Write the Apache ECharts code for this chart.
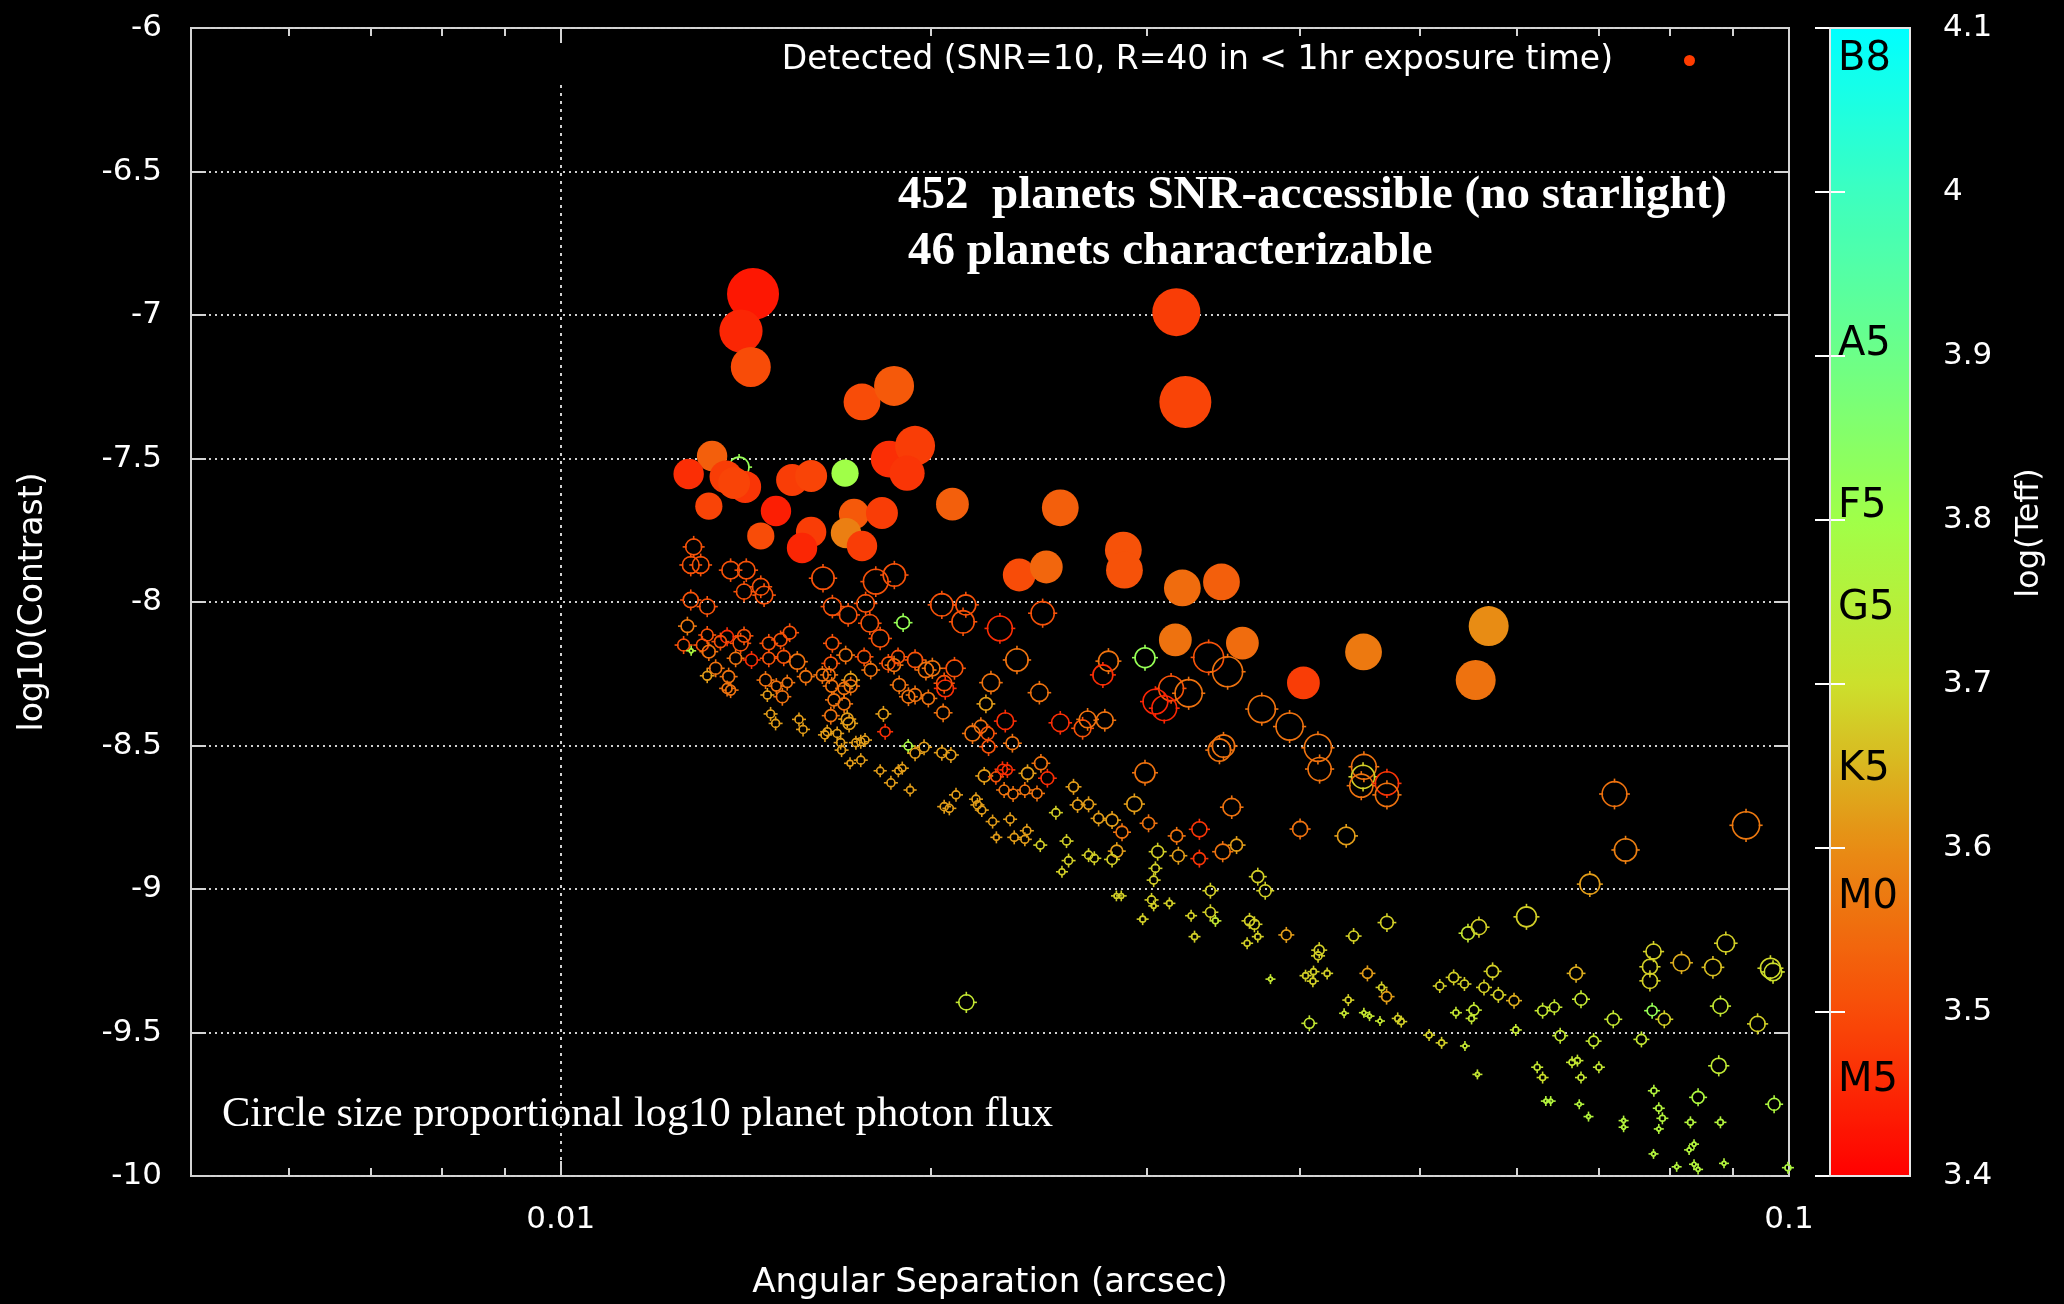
<!DOCTYPE html>
<html>
<head>
<meta charset="utf-8">
<title>Planet contrast versus angular separation</title>
<script src="https://cdn.jsdelivr.net/npm/echarts@6.0.0/dist/echarts.min.js"></script>
<style>
  html, body { margin: 0; padding: 0; background: #000; }
  #chart { width: 2064px; height: 1304px; }
</style>
</head>
<body>
<div id="chart"></div>
<script>
// ---- SNR-accessible planets (open circles) ----
const accSep = [
  0.01283, 0.01397, 0.01276, 0.01300, 0.01375, 0.01416, 0.01635, 0.01805, 0.01869, 0.01410,
  0.01455, 0.01464, 0.01276, 0.01316, 0.01664, 0.01714, 0.01771, 0.01785, 0.01820, 0.01900,
  0.02043, 0.02137, 0.02126, 0.02278, 0.02468, 0.01268, 0.01259, 0.01277, 0.01316, 0.01366,
  0.01410, 0.01401, 0.01304, 0.01320, 0.01349, 0.01388, 0.01430, 0.01477, 0.01477, 0.01510,
  0.01536, 0.01519, 0.01558, 0.01583, 0.01337, 0.01370, 0.01316, 0.01366, 0.01375, 0.01468,
  0.01498, 0.01529, 0.01515, 0.01473, 0.01482, 0.01496, 0.01563, 0.01575, 0.01664, 0.01659,
  0.01706, 0.01654, 0.01633, 0.01722, 0.01722, 0.01701, 0.01662, 0.01669, 0.01701, 0.01659,
  0.01711, 0.01717, 0.01648, 0.01641, 0.01679, 0.01690, 0.01693, 0.01766, 0.01788, 0.01848,
  0.01868, 0.01882, 0.01886, 0.01919, 0.01943, 0.01983, 0.02007, 0.02092, 0.01943, 0.01992,
  0.02056, 0.02052, 0.02048, 0.01831, 0.01837, 0.01739, 0.01755, 0.01769, 0.01720, 0.01755,
  0.01820, 0.01883, 0.01897, 0.01857, 0.01925, 0.01918, 0.01976, 0.01943, 0.02043, 0.02078,
  0.02164, 0.02198, 0.02226, 0.02230, 0.02301, 0.02332, 0.02352, 0.02240, 0.02219, 0.02453,
  0.02551, 0.02660, 0.02685, 0.02773, 0.02792, 0.02763, 0.02212, 0.02261, 0.02289, 0.02310,
  0.02399, 0.02460, 0.02490, 0.02296, 0.02335, 0.02387, 0.02442, 0.02098, 0.02052, 0.02072,
  0.02178, 0.02184, 0.02202, 0.02247, 0.02322, 0.02263, 0.02340, 0.02387, 0.02396, 0.02457,
  0.02530, 0.02581, 0.02615, 0.02635, 0.02690, 0.02741, 0.02591, 0.02559, 0.02690, 0.02719,
  0.02990, 0.03369, 0.03491, 0.03140, 0.03245, 0.03049, 0.03100, 0.03722, 0.03921, 0.04135,
  0.04148, 0.03438, 0.03464, 0.02990, 0.04507, 0.04500, 0.04485, 0.04706, 0.04706, 0.02931,
  0.03518, 0.02811, 0.03010, 0.02864, 0.03999, 0.04360, 0.03173, 0.03311, 0.02836, 0.02811,
  0.03062, 0.03183, 0.03311, 0.03459, 0.03550, 0.03049, 0.03039, 0.03694, 0.03746, 0.03380,
  0.02834, 0.02860, 0.03027, 0.03039, 0.03130, 0.03260, 0.03380, 0.03412, 0.02977, 0.03637,
  0.03671, 0.03281, 0.03621, 0.03694, 0.03897, 0.04145, 0.04136, 0.04421, 0.04706, 0.05478,
  0.05592, 0.06113, 0.06884, 0.07210, 0.09226, 0.07361, 0.02139, 0.03783, 0.04040, 0.04101,
  0.04096, 0.04207, 0.04537, 0.04377, 0.04343, 0.04507, 0.04555, 0.04645, 0.04659, 0.04703,
  0.04802, 0.04834, 0.04069, 0.05093, 0.05214, 0.05447, 0.05196, 0.05333, 0.05442, 0.05737,
  0.05645, 0.05799, 0.05972, 0.05356, 0.05539, 0.05515, 0.05992, 0.05576, 0.06301, 0.06441,
  0.06771, 0.06512, 0.06933, 0.06709, 0.07193, 0.07737, 0.07915, 0.07583, 0.07757, 0.07705,
  0.07705, 0.08175, 0.08671, 0.08883, 0.09658, 0.09705, 0.08794, 0.09428, 0.06237, 0.06301,
  0.06658, 0.06726, 0.06771, 0.07002, 0.06339, 0.06397, 0.06749, 0.06867, 0.07334, 0.07334,
  0.07762, 0.07834, 0.07887, 0.07834, 0.07757, 0.08766, 0.08433, 0.08313, 0.08794, 0.08369,
  0.08292, 0.08101, 0.08369, 0.08433, 0.08853, 0.09725, 0.09980
];
const accContrast = [
  -7.808, -7.530, -7.871, -7.871, -7.889, -7.889, -7.917, -7.929, -7.906, -7.964,
  -7.947, -7.976, -7.993, -8.016, -8.016, -8.045, -8.005, -8.074, -8.127, -8.072,
  -8.010, -8.010, -8.069, -8.092, -8.039, -8.084, -8.150, -8.170, -8.115, -8.121,
  -8.118, -8.144, -8.150, -8.173, -8.138, -8.196, -8.202, -8.196, -8.144, -8.132,
  -8.107, -8.191, -8.208, -8.260, -8.231, -8.260, -8.257, -8.301, -8.307, -8.272,
  -8.293, -8.281, -8.330, -8.324, -8.390, -8.423, -8.409, -8.444, -8.144, -8.214,
  -8.185, -8.254, -8.254, -8.272, -8.293, -8.301, -8.293, -8.341, -8.355, -8.396,
  -8.408, -8.423, -8.452, -8.463, -8.458, -8.490, -8.516, -8.191, -8.237, -8.214,
  -8.220, -8.191, -8.289, -8.330, -8.202, -8.237, -8.231, -8.231, -8.324, -8.336,
  -8.301, -8.283, -8.386, -8.390, -8.452, -8.490, -8.487, -8.481, -8.562, -8.551,
  -8.588, -8.588, -8.579, -8.630, -8.655, -8.502, -8.506, -8.527, -8.525, -8.533,
  -8.458, -8.434, -8.458, -8.504, -8.415, -8.492, -8.202, -8.281, -8.355, -8.316,
  -8.421, -8.440, -8.409, -8.412, -8.206, -8.254, -8.606, -8.609, -8.583, -8.585,
  -8.597, -8.562, -8.614, -8.655, -8.669, -8.655, -8.667, -8.672, -8.713, -8.719,
  -8.687, -8.707, -8.725, -8.765, -8.757, -8.820, -8.820, -8.827, -8.797, -8.847,
  -8.734, -8.833, -8.644, -8.707, -8.705, -8.754, -8.901, -8.940, -8.882, -8.893,
  -8.194, -8.193, -8.243, -8.301, -8.318, -8.347, -8.370, -8.373, -8.434, -8.508,
  -8.582, -8.516, -8.502, -8.595, -8.574, -8.609, -8.640, -8.632, -8.672, -8.704,
  -8.715, -8.760, -8.771, -8.802, -8.791, -8.815, -8.815, -8.792, -8.868, -8.897,
  -8.870, -8.884, -8.894, -8.870, -8.847, -8.928, -8.969, -8.957, -9.006, -9.006,
  -9.024, -9.024, -9.038, -9.059, -9.050, -9.093, -9.081, -9.111, -9.105, -9.111,
  -9.123, -9.166, -9.189, -9.166, -9.160, -9.213, -9.233, -9.164, -9.117, -9.154,
  -9.133, -9.097, -8.983, -8.669, -8.778, -8.864, -9.395, -9.314, -9.302, -9.288,
  -9.321, -9.294, -9.294, -9.387, -9.433, -9.431, -9.443, -9.460, -9.343, -9.375,
  -9.451, -9.462, -9.468, -9.509, -9.536, -9.547, -9.338, -9.308, -9.331, -9.287,
  -9.343, -9.369, -9.389, -9.431, -9.422, -9.451, -9.491, -9.646, -9.424, -9.412,
  -9.384, -9.511, -9.530, -9.294, -9.454, -9.424, -9.454, -9.524, -9.218, -9.271,
  -9.320, -9.257, -9.273, -9.189, -9.276, -9.289, -9.408, -9.470, -9.621, -9.657,
  -9.604, -9.598, -9.657, -9.621, -9.739, -9.739, -9.750, -9.793, -9.807, -9.830,
  -9.703, -9.764, -9.799, -9.836, -9.923, -9.616, -9.726, -9.813, -9.813, -9.889,
  -9.909, -9.968, -9.959, -9.977, -9.956, -9.750, -9.971
];
const accFlux = [
  2.0, 2.5, 2.1, 2.1, 2.2, 2.2, 2.8, 3.1, 2.8, 1.9,
  2.1, 2.2, 1.9, 1.9, 2.2, 2.2, 2.2, 2.2, 2.2, 1.6,
  2.8, 2.5, 2.8, 3.1, 2.9, 1.6, 1.5, 0.5, 1.5, 1.6,
  1.6, 1.9, 1.5, 1.6, 1.5, 1.5, 1.5, 1.5, 1.6, 1.6,
  1.6, 1.6, 1.9, 1.5, 1.5, 1.5, 1.1, 1.25, 1.25, 1.5,
  1.25, 1.25, 1.5, 1.0, 1.0, 1.0, 1.0, 1.0, 1.6, 1.6,
  1.6, 1.5, 1.5, 1.6, 1.6, 1.5, 1.5, 1.5, 1.5, 1.5,
  1.5, 1.5, 1.0, 1.0, 1.0, 1.0, 1.0, 1.6, 1.6, 1.6,
  1.6, 1.6, 1.6, 1.6, 1.9, 1.9, 1.9, 2.1, 1.6, 1.5,
  2.1, 1.9, 1.6, 1.25, 1.25, 1.0, 1.0, 1.0, 0.75, 1.0,
  0.9, 0.9, 0.9, 1.0, 0.9, 1.0, 1.25, 1.25, 1.25, 1.25,
  1.9, 1.6, 1.6, 1.6, 2.1, 1.6, 2.8, 2.2, 1.6, 2.2,
  2.2, 2.1, 2.1, 2.1, 2.5, 2.5, 1.5, 1.25, 1.25, 1.25,
  1.5, 1.6, 1.6, 1.25, 1.25, 1.25, 1.25, 1.0, 1.0, 1.0,
  1.0, 1.0, 1.0, 1.0, 1.0, 0.75, 1.0, 1.0, 1.0, 1.0,
  1.0, 1.0, 1.25, 1.25, 1.25, 1.25, 1.0, 0.75, 1.0, 1.0,
  2.5, 3.75, 3.75, 3.1, 3.4, 3.1, 3.1, 3.4, 3.4, 3.4,
  2.9, 2.8, 2.8, 2.5, 3.1, 2.9, 2.9, 2.9, 2.9, 1.9,
  2.2, 1.5, 1.5, 1.5, 1.9, 2.2, 1.5, 1.9, 1.5, 1.25,
  1.5, 1.5, 1.5, 1.9, 1.5, 1.0, 1.0, 1.5, 1.5, 1.25,
  0.6, 0.6, 1.0, 0.6, 0.75, 0.75, 1.25, 0.75, 0.75, 1.25,
  1.25, 0.75, 0.75, 0.75, 1.25, 1.25, 1.0, 1.25, 1.6, 1.6,
  1.9, 2.5, 2.5, 3.1, 3.4, 2.8, 1.9, 0.5, 0.75, 0.75,
  0.75, 0.75, 1.25, 0.75, 0.5, 0.5, 0.5, 0.5, 0.75, 1.25,
  0.75, 0.75, 1.25, 0.75, 0.75, 0.5, 1.0, 1.25, 1.0, 1.5,
  1.25, 1.25, 1.25, 0.75, 1.25, 0.75, 0.75, 0.5, 1.25, 1.25,
  1.5, 1.25, 1.25, 1.6, 1.5, 1.25, 1.5, 1.25, 1.9, 1.9,
  1.9, 2.1, 2.1, 2.2, 2.5, 2.2, 1.9, 1.9, 0.75, 0.75,
  0.75, 0.75, 0.75, 0.75, 0.5, 0.5, 0.5, 0.5, 0.5, 0.5,
  0.75, 0.75, 0.75, 0.5, 0.5, 1.9, 1.5, 0.75, 0.75, 0.5,
  0.5, 0.5, 0.5, 0.5, 0.5, 1.5, 0.75
];
const accTeff = [
  3.51, 3.82, 3.51, 3.51, 3.51, 3.51, 3.51, 3.51, 3.51, 3.51,
  3.51, 3.51, 3.51, 3.51, 3.51, 3.51, 3.51, 3.51, 3.51, 3.82,
  3.51, 3.51, 3.51, 3.46, 3.51, 3.57, 3.51, 3.77, 3.51, 3.46,
  3.51, 3.51, 3.51, 3.56, 3.51, 3.56, 3.46, 3.51, 3.51, 3.51,
  3.51, 3.51, 3.56, 3.56, 3.56, 3.56, 3.62, 3.56, 3.56, 3.56,
  3.56, 3.56, 3.56, 3.62, 3.62, 3.62, 3.62, 3.62, 3.51, 3.51,
  3.56, 3.56, 3.56, 3.62, 3.56, 3.56, 3.56, 3.56, 3.56, 3.56,
  3.62, 3.62, 3.62, 3.62, 3.62, 3.62, 3.62, 3.51, 3.56, 3.51,
  3.56, 3.51, 3.56, 3.56, 3.51, 3.56, 3.56, 3.51, 3.56, 3.56,
  3.46, 3.51, 3.56, 3.62, 3.46, 3.62, 3.62, 3.62, 3.62, 3.62,
  3.62, 3.62, 3.62, 3.62, 3.62, 3.78, 3.62, 3.62, 3.62, 3.62,
  3.56, 3.56, 3.51, 3.51, 3.46, 3.56, 3.56, 3.56, 3.62, 3.56,
  3.46, 3.51, 3.56, 3.56, 3.56, 3.46, 3.62, 3.51, 3.46, 3.46,
  3.62, 3.56, 3.46, 3.56, 3.56, 3.56, 3.56, 3.62, 3.62, 3.62,
  3.62, 3.62, 3.62, 3.62, 3.62, 3.62, 3.62, 3.62, 3.62, 3.68,
  3.68, 3.68, 3.62, 3.62, 3.62, 3.62, 3.68, 3.68, 3.68, 3.68,
  3.82, 3.51, 3.56, 3.51, 3.56, 3.45, 3.45, 3.56, 3.56, 3.56,
  3.56, 3.56, 3.56, 3.56, 3.56, 3.68, 3.56, 3.47, 3.56, 3.62,
  3.56, 3.62, 3.56, 3.56, 3.56, 3.62, 3.56, 3.47, 3.62, 3.68,
  3.68, 3.62, 3.47, 3.56, 3.62, 3.68, 3.68, 3.68, 3.68, 3.68,
  3.68, 3.68, 3.68, 3.68, 3.68, 3.68, 3.68, 3.72, 3.68, 3.68,
  3.68, 3.68, 3.68, 3.68, 3.62, 3.68, 3.68, 3.68, 3.68, 3.72,
  3.68, 3.68, 3.62, 3.56, 3.57, 3.58, 3.72, 3.72, 3.68, 3.68,
  3.68, 3.68, 3.62, 3.68, 3.72, 3.72, 3.72, 3.72, 3.68, 3.62,
  3.68, 3.68, 3.72, 3.68, 3.68, 3.72, 3.68, 3.68, 3.68, 3.68,
  3.68, 3.68, 3.64, 3.72, 3.72, 3.72, 3.72, 3.72, 3.72, 3.72,
  3.72, 3.72, 3.72, 3.64, 3.72, 3.82, 3.68, 3.72, 3.68, 3.68,
  3.68, 3.64, 3.66, 3.68, 3.69, 3.70, 3.72, 3.68, 3.72, 3.70,
  3.72, 3.72, 3.72, 3.72, 3.76, 3.76, 3.76, 3.76, 3.76, 3.76,
  3.76, 3.76, 3.76, 3.76, 3.76, 3.73, 3.77, 3.76, 3.76, 3.76,
  3.76, 3.76, 3.76, 3.76, 3.76, 3.77, 3.77
];

// ---- characterizable planets (filled circles) ----
const charSep = [
  0.01434, 0.01402, 0.01428, 0.01759, 0.01868, 0.01328, 0.01271, 0.01363, 0.01413, 0.01543,
  0.01599, 0.01704, 0.01851, 0.01943, 0.01914, 0.01320, 0.01497, 0.01455, 0.01599, 0.01572,
  0.01733, 0.01826, 0.01707, 0.01759, 0.02084, 0.02551, 0.02871, 0.02877, 0.02362, 0.02485,
  0.03171, 0.03225, 0.03207, 0.03451, 0.03165, 0.03589, 0.04024, 0.04504, 0.05695, 0.05558,
  0.01384
];
const charContrast = [
  -6.927, -7.056, -7.181, -7.303, -7.247, -7.491, -7.554, -7.564, -7.599, -7.575,
  -7.561, -7.551, -7.502, -7.456, -7.551, -7.666, -7.683, -7.770, -7.756, -7.812,
  -7.693, -7.690, -7.760, -7.805, -7.659, -7.672, -7.819, -7.889, -7.906, -7.878,
  -6.990, -7.303, -7.951, -7.930, -8.132, -8.143, -8.282, -8.174, -8.084, -8.272,
  -7.585
];
const charFlux = [
  6.5, 5.4, 5.0, 4.6, 5.0, 3.8, 3.8, 4.1, 4.0, 4.0,
  4.0, 3.4, 4.6, 5.0, 4.4, 3.4, 3.8, 3.4, 3.8, 3.8,
  3.8, 4.0, 3.8, 3.8, 4.1, 4.6, 4.6, 4.6, 4.1, 4.1,
  6.0, 6.5, 4.6, 4.6, 4.1, 4.1, 4.1, 4.6, 5.0, 5.0,
  4.0
];
const charTeff = [
  3.43, 3.45, 3.50, 3.50, 3.52, 3.53, 3.46, 3.48, 3.47, 3.48,
  3.49, 3.80, 3.46, 3.48, 3.47, 3.49, 3.44, 3.50, 3.48, 3.45,
  3.52, 3.48, 3.58, 3.48, 3.53, 3.53, 3.51, 3.51, 3.50, 3.54,
  3.48, 3.49, 3.55, 3.53, 3.56, 3.55, 3.48, 3.57, 3.60, 3.56,
  3.49
];

// ---- axes, colour scale and annotation text ----
const sepRange = [0.005, 0.1];
const sepMinorTicks = [0.006, 0.007, 0.008, 0.009, 0.02, 0.03, 0.04, 0.05, 0.06, 0.07, 0.08, 0.09];
const contrastRange = [-10, -6];
const contrastStep = 0.5;
const teffRange = [3.4, 4.1];
const teffStep = 0.1;
const spectralTypes = ['B8', 'A5', 'F5', 'G5', 'K5', 'M0', 'M5'];
const spectralLogTeff = [4.081, 3.907, 3.808, 3.746, 3.648, 3.570, 3.458];
const teffPalette = ['#ff0000', '#f84c08', '#e88c14', '#cce02c', '#a0ff48', '#6cff88', '#3cffc0', '#00ffff'];

const detectedLabel = 'Detected (SNR=10, R=40 in < 1hr exposure time)';
const accessibleNote = '452  planets SNR-accessible (no starlight)';
const characterNote = '46 planets characterizable';
const sizeNote = 'Circle size proportional log10 planet photon flux';
const xTitle = 'Angular Separation (arcsec)';
const yTitle = 'log10(Contrast)';
const cbTitle = 'log(Teff)';

// ---- drawing ----
const SANS = "'DejaVu Sans', sans-serif";
const SERIF = "'Liberation Serif', 'Times New Roman', serif";
const FRAME = '#d4d4d4';
const GRIDDOT = '#d0d0d0';
const PX_PER_FLUX = 8;   // symbol diameter per unit of log10 photon flux

const accData = accSep.map((s, i) => [s, accContrast[i], accFlux[i], accTeff[i]]);
const charData = charSep.map((s, i) => [s, charContrast[i], charFlux[i], charTeff[i]]);

const plotBox = { left: 191, top: 28, width: 1598, height: 1148 };
const barBox = { left: 1830, top: 28, width: 80, height: 1148 };

// open circle with the small cardinal spikes of the original point style
function openCircle(params, api) {
  const c = api.coord([api.value(0), api.value(1)]);
  const r = api.value(2) * PX_PER_FLUX / 2;
  const col = api.visual('color');
  const spike = 3;
  const mk = () => ({ stroke: col, lineWidth: 1.6, fill: 'none' });
  const dirs = [[0, -1], [0, 1], [-1, 0], [1, 0]];
  const children = [{ type: 'circle', shape: { cx: c[0], cy: c[1], r: r }, style: mk() }];
  dirs.forEach(([dx, dy]) => {
    children.push({
      type: 'line',
      shape: { x1: c[0] + dx * (r - 1), y1: c[1] + dy * (r - 1), x2: c[0] + dx * (r + spike), y2: c[1] + dy * (r + spike) },
      style: mk()
    });
  });
  return { type: 'group', children: children };
}

const majorTick = { inside: true, length: 15, lineStyle: { color: FRAME, width: 2 } };
const minorTick = { inside: true, length: 8, lineStyle: { color: FRAME, width: 2 } };
const hidden = { show: false };
const logMin = Math.log10(sepRange[0]);
const logMax = Math.log10(sepRange[1]);

const chart = echarts.init(document.getElementById('chart'), null, { renderer: 'canvas' });
chart.setOption({
  backgroundColor: '#000',
  animation: false,
  grid: [
    Object.assign({ show: true, borderColor: FRAME, borderWidth: 2, backgroundColor: 'transparent' }, plotBox),
    Object.assign({ show: false }, barBox)
  ],
  xAxis: [
    {
      type: 'log', logBase: 10, gridIndex: 0, min: sepRange[0], max: sepRange[1], position: 'bottom',
      axisLine: hidden, axisTick: majorTick, splitLine: hidden,
      axisLabel: {
        color: '#fff', fontFamily: SANS, fontSize: 31, margin: 28, showMinLabel: false,
        formatter: v => String(+Number(v).toPrecision(6))
      }
    },
    {
      type: 'log', logBase: 10, gridIndex: 0, min: sepRange[0], max: sepRange[1], position: 'top',
      axisLine: hidden, axisTick: majorTick, splitLine: hidden, axisLabel: hidden
    },
    {
      type: 'value', gridIndex: 0, min: logMin, max: logMax, position: 'bottom',
      axisLine: hidden, splitLine: hidden, axisLabel: hidden,
      axisTick: Object.assign({ customValues: sepMinorTicks.map(v => Math.log10(v)) }, minorTick)
    },
    {
      type: 'value', gridIndex: 0, min: logMin, max: logMax, position: 'top',
      axisLine: hidden, splitLine: hidden, axisLabel: hidden,
      axisTick: Object.assign({ customValues: sepMinorTicks.map(v => Math.log10(v)) }, minorTick)
    },
    { type: 'value', gridIndex: 1, min: 0, max: 1, show: false }
  ],
  yAxis: [
    {
      type: 'value', gridIndex: 0, min: contrastRange[0], max: contrastRange[1], interval: contrastStep,
      axisLine: hidden, axisTick: majorTick,
      axisLabel: { color: '#fff', fontFamily: SANS, fontSize: 31, margin: 29 },
      splitLine: { show: true, lineStyle: { color: GRIDDOT, width: 2, type: [2, 4] } }
    },
    {
      type: 'value', gridIndex: 0, min: contrastRange[0], max: contrastRange[1], interval: contrastStep,
      position: 'right', axisLine: hidden, axisTick: majorTick, axisLabel: hidden, splitLine: hidden
    },
    {
      type: 'value', gridIndex: 1, min: teffRange[0], max: teffRange[1], interval: teffStep,
      position: 'right', z: 5, axisLine: hidden,
      axisTick: { inside: true, length: 15, lineStyle: { color: '#fff', width: 2 } },
      axisLabel: { color: '#fff', fontFamily: SANS, fontSize: 31, margin: 33 },
      splitLine: hidden
    },
    {
      type: 'value', gridIndex: 1, min: teffRange[0], max: teffRange[1], interval: teffStep,
      position: 'left', z: 5, axisLine: hidden,
      axisTick: { inside: true, length: 15, lineStyle: { color: '#fff', width: 2 } },
      axisLabel: {
        inside: true, margin: 8, color: '#000', fontFamily: SANS, fontSize: 40,
        customValues: spectralLogTeff,
        formatter: v => {
          const i = spectralLogTeff.findIndex(t => Math.abs(t - v) < 1e-6);
          return i >= 0 ? spectralTypes[i] : '';
        }
      },
      splitLine: hidden
    }
  ],
  visualMap: {
    type: 'continuous', min: teffRange[0], max: teffRange[1], dimension: 3, seriesIndex: [0, 1],
    inRange: { color: teffPalette },
    calculable: false, hoverLink: false, padding: 0, z: 1,
    left: barBox.left, top: barBox.top, itemWidth: barBox.width, itemHeight: barBox.height,
    textStyle: { color: 'transparent' }
  },
  legend: {
    data: [{ name: detectedLabel, icon: 'circle', itemStyle: { color: '#ff3c00' } }],
    right: 369, top: 44, align: 'right', padding: 0, itemWidth: 11, itemHeight: 11,
    selectedMode: false,
    textStyle: { color: '#fff', fontFamily: SANS, fontSize: 33, padding: [0, 66, 0, 0] }
  },
  series: [
    {
      type: 'custom', name: 'SNR-accessible', xAxisIndex: 0, yAxisIndex: 0,
      dimensions: ['sep', 'contrast', 'flux', 'teff'], encode: { x: 0, y: 1 },
      data: accData, renderItem: openCircle, clip: false, z: 2, silent: true
    },
    {
      type: 'scatter', name: detectedLabel, xAxisIndex: 0, yAxisIndex: 0,
      dimensions: ['sep', 'contrast', 'flux', 'teff'], encode: { x: 0, y: 1 },
      data: charData, symbol: 'circle', symbolSize: v => v[2] * PX_PER_FLUX,
      itemStyle: { opacity: 1 }, z: 3, silent: true,
      markLine: {
        silent: true, symbol: 'none', z: 1, label: { show: false },
        lineStyle: { color: GRIDDOT, width: 2, type: [3, 5] },
        data: [[{ coord: [0.01, contrastRange[0]] }, { coord: [0.01, -6.19] }]]
      }
    }
  ],
  graphic: [
    { type: 'rect', z: 10, silent: true,
      shape: { x: barBox.left, y: barBox.top, width: barBox.width, height: barBox.height },
      style: { fill: 'none', stroke: '#e6e6e6', lineWidth: 2 } },
    { type: 'text', x: 898, y: 196, silent: true,
      style: { text: accessibleNote, fill: '#fff', font: 'bold 47px ' + SERIF, align: 'left', verticalAlign: 'middle' } },
    { type: 'text', x: 908, y: 252, silent: true,
      style: { text: characterNote, fill: '#fff', font: 'bold 47px ' + SERIF, align: 'left', verticalAlign: 'middle' } },
    { type: 'text', x: 222, y: 1115, silent: true,
      style: { text: sizeNote, fill: '#fff', font: '42.5px ' + SERIF, align: 'left', verticalAlign: 'middle' } },
    { type: 'text', x: 990, y: 1283, silent: true,
      style: { text: xTitle, fill: '#fff', font: '34px ' + SANS, align: 'center', verticalAlign: 'middle' } },
    { type: 'text', x: 33, y: 602, rotation: Math.PI / 2, silent: true,
      style: { text: yTitle, fill: '#fff', font: '33px ' + SANS, align: 'center', verticalAlign: 'middle' } },
    { type: 'text', x: 2030, y: 533, rotation: Math.PI / 2, silent: true,
      style: { text: cbTitle, fill: '#fff', font: '32px ' + SANS, align: 'center', verticalAlign: 'middle' } }
  ]
});
</script>
</body>
</html>
